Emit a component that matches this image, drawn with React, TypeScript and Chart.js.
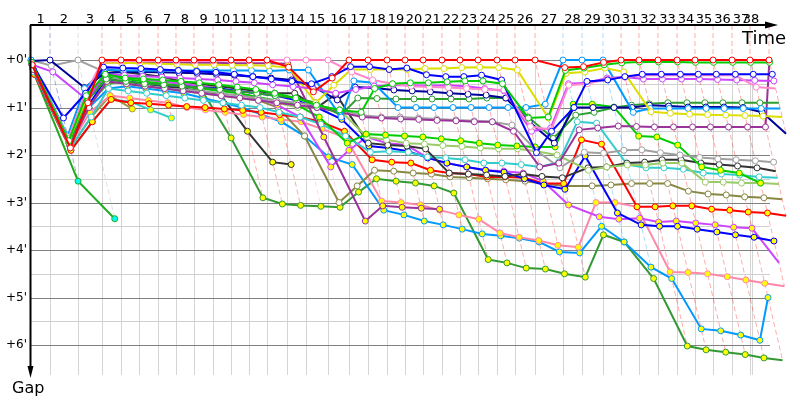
import React, { useEffect, useRef } from 'react';
import { Chart, registerables } from 'chart.js';

Chart.register(...registerables);

// ---- axis data ----
const LAP_LABELS = Array.from({ length: 38 }, (_, i) => String(i + 1));
// leader's crossing time (minutes) at end of each lap, index = lap (0 = start)
const LAP_TIMES = [
  0, 1.73, 4.27, 6.45, 8.18, 9.82, 11.55, 13.18, 14.82, 16.55,
  18.18, 19.82, 21.45, 23.27, 25.0, 27.0, 28.91, 30.64, 32.36, 34.0,
  35.64, 37.36, 39.0, 40.64, 42.36, 44.0, 45.82, 48.36, 50.09, 52.0,
  53.64, 55.27, 57.0, 58.73, 60.36, 62.0, 63.73, 65.36, 67.09,
];
const RACE_END = 65.55;
const GAP_TICKS = [0, 1, 2, 3, 4, 5, 6];
const GAP_TICK_LABELS = ["+0'", "+1'", "+2'", "+3'", "+4'", "+5'", "+6'"];
const GAP_GRID = [0, 0.5, 1, 1.5, 2, 2.5, 3, 3.5, 4, 4.5, 5, 5.5, 6];

// ---- series: gap (minutes) behind leader at end of each lap ----
const RED_W = [
  0.1, 1.85, 0.9, 0, 0, 0, 0, 0, 0, 0,
  0, 0, 0, 0.15, 0.67, 0.38, 0, 0, 0, 0,
  0, 0, 0, 0, 0, 0, 0, 0.16, 0.14, 0.05,
  0, 0, 0, 0, 0, 0, 0, 0, 0,
];
const NAVY_W = [
  0.02, 0, 0.58, 0.28, 0.25, 0.25, 0.26, 0.27, 0.28, 0.3,
  0.32, 0.35, 0.38, 0.42, 0.55, 0.84, 0.57, 0.59, 0.63, 0.65,
  0.67, 0.7, 0.72, 0.74, 0.8, 1.3, 1.75, 1.0, 1.0, 1.0,
  1.0, 0.95, 0.97, 0.99, 0.99, 0.99, 1.0, 1.1, 1.55,
];
const GREY_W = [
  0, 0.12, 0, 0.25, 0.5, 0.55, 0.6, 0.62, 0.65, 0.7,
  0.75, 0.8, 0.85, 0.9, 0.95, 1.05, 1.16, 1.2, 1.2, 1.22,
  1.24, 1.26, 1.28, 1.3, 1.37, 1.9, 2.27, 1.94, 1.96, 1.9,
  1.89, 1.95, 2.0, 2.05, 2.08, 2.1, 2.12, 2.15,
];
const GREEN_CYAN = [0.3, 2.55, 3.34];
const OLIVE_SHORT = [0.2, 1.85, 1.2, 0.75, 1.03];
const CYAN_SHORT = [0.25, 1.9, 1.3, 0.83, 0.88, 1.05, 1.22];
const BLACK_Y = [0.15, 1.7, 0.85, 0.4, 0.45, 0.5, 0.55, 0.6, 0.65, 0.75, 1.5, 2.15, 2.2];
const FOREST_Y = [
  0.25, 1.75, 0.95, 0.5, 0.45, 0.5, 0.52, 0.55, 0.6, 1.64,
  2.9, 3.03, 3.06, 3.08, 3.1, 2.78, 2.5, 2.55, 2.59, 2.65,
  2.8, 4.2, 4.27, 4.38, 4.4, 4.5, 4.57, 3.68, 3.83, 4.6,
  6.02, 6.1, 6.15, 6.2, 6.27, 6.32,
];
const LIGHTBLUE_Y = [
  0.2, 1.7, 1.0, 0.6, 0.55, 0.6, 0.65, 0.7, 0.8, 0.9,
  1.0, 1.15, 1.3, 1.6, 2.04, 2.2, 3.16, 3.26, 3.39, 3.47,
  3.56, 3.66, 3.7, 3.75, 3.83, 4.04, 4.06, 3.5, 3.83, 4.36,
  4.6, 5.66, 5.7, 5.79, 5.9, 5.0,
];
const PINK_Y = [
  0.2, 1.8, 1.1, 0.75, 0.8, 0.85, 0.9, 1.0, 1.05, 1.1,
  1.15, 1.2, 1.25, 1.3, 1.45, 1.64, 2.97, 3.0, 3.05, 3.16,
  3.26, 3.35, 3.64, 3.73, 3.8, 3.9, 3.94, 3.0, 3.0, 3.09,
  4.46, 4.47, 4.5, 4.56, 4.63, 4.7, 4.76,
];
const PURPLE_Y = [
  0.05, 1.75, 0.85, 0.04, 0.05, 0.05, 0.05, 0.05, 0.06, 0.06,
  0.07, 0.07, 0.07, 0.08, 1.62, 3.39, 3.07, 3.1, 3.12, 3.14,
];
const BLACK_W = [
  0.1, 1.7, 0.7, 0.2, 0.25, 0.3, 0.35, 0.45, 0.5, 0.55,
  0.6, 0.65, 0.7, 0.7, 1.0, 0.72, 1.75, 1.79, 1.81, 1.87,
  2.38, 2.4, 2.42, 2.45, 2.4, 2.45, 2.48, 2.27, 2.25, 2.17,
  2.15, 2.1, 2.1, 2.17, 2.2, 2.23, 2.27, 2.34,
];
const OLIVE_W = [
  0.15, 1.8, 0.8, 0.3, 0.35, 0.4, 0.45, 0.5, 0.55, 0.6,
  0.7, 0.85, 1.0, 1.6, 3.0, 2.65, 2.32, 2.34, 2.38, 2.4,
  2.46, 2.48, 2.5, 2.52, 2.55, 2.6, 2.65, 2.65, 2.63, 2.6,
  2.6, 2.6, 2.76, 2.82, 2.84, 2.88, 2.9, 2.93,
];
const RED_Y = [
  0.3, 1.9, 1.3, 0.83, 0.9, 0.92, 0.95, 0.98, 1.0, 1.03,
  1.06, 1.1, 1.15, 1.2, 1.3, 1.5, 2.1, 2.15, 2.17, 2.32,
  2.38, 2.4, 2.46, 2.46, 2.48, 2.6, 2.6, 1.68, 1.77, 3.09,
  3.09, 3.07, 3.07, 3.14, 3.16, 3.2, 3.22, 3.28,
];
const BLUE_Y = [
  0.2, 1.75, 0.95, 0.4, 0.45, 0.5, 0.52, 0.55, 0.58, 0.6,
  0.65, 0.7, 0.75, 0.85, 1.0, 1.25, 1.81, 1.85, 1.92, 2.06,
  2.17, 2.25, 2.32, 2.36, 2.5, 2.63, 2.72, 2.02, 3.22, 3.47,
  3.5, 3.5, 3.56, 3.62, 3.68, 3.73, 3.81,
];
const VIOLET_Y = [
  0.15, 1.7, 0.8, 0.3, 0.35, 0.4, 0.45, 0.5, 0.55, 0.6,
  0.7, 0.8, 0.95, 1.2, 2.25, 1.9, 1.62, 1.75, 1.79, 2.06,
  2.17, 2.25, 2.32, 2.34, 2.38, 2.55, 3.05, 3.3, 3.35, 3.33,
  3.41, 3.39, 3.43, 3.47, 3.52, 3.54, 4.27,
];
const CYAN_W = [
  0.25, 1.85, 1.2, 0.6, 0.65, 0.7, 0.75, 0.8, 0.85, 0.9,
  0.95, 1.0, 1.1, 1.2, 1.35, 1.6, 1.94, 1.92, 1.94, 2.04,
  2.06, 2.1, 2.17, 2.17, 2.2, 2.25, 2.15, 1.3, 1.33, 2.2,
  2.27, 2.27, 2.3, 2.38, 2.4, 2.42, 2.46, 2.48,
];
const YGREEN_W = [
  0.2, 1.8, 1.0, 0.45, 0.5, 0.55, 0.6, 0.65, 0.7, 0.75,
  0.8, 0.85, 0.9, 1.0, 1.0, 1.05, 1.62, 1.68, 1.75, 1.77,
  1.8, 1.82, 1.85, 1.87, 1.87, 1.92, 2.0, 2.32, 2.25, 2.21,
  2.21, 2.17, 2.17, 2.57, 2.57, 2.59, 2.59, 2.61,
];
const GREEN_Y = [
  0.1, 1.75, 0.8, 0.35, 0.4, 0.45, 0.5, 0.55, 0.6, 0.65,
  0.7, 0.78, 0.85, 0.95, 1.2, 1.75, 1.56, 1.58, 1.6, 1.62,
  1.66, 1.7, 1.75, 1.79, 1.81, 1.83, 1.83, 0.93, 0.93, 0.99,
  1.6, 1.62, 1.79, 2.25, 2.32, 2.38, 2.59,
];
const GREEN_W = [
  0.05, 1.7, 0.75, 0.3, 0.38, 0.4, 0.42, 0.45, 0.48, 0.52,
  0.57, 0.62, 0.7, 0.8, 0.95, 1.05, 1.1, 0.6, 0.5, 0.48,
  0.48, 0.46, 0.44, 0.44, 0.5, 1.22, 1.2, 0.22, 0.17, 0.1,
  0.06, 0.04, 0.04, 0.04, 0.05, 0.05, 0.05, 0.05, 0.05,
];
const BLUE_W = [
  0.05, 1.22, 0.7, 0.15, 0.17, 0.18, 0.2, 0.22, 0.24, 0.26,
  0.3, 0.35, 0.4, 0.45, 0.5, 0.35, 0.14, 0.14, 0.2, 0.17,
  0.31, 0.35, 0.35, 0.32, 0.42, 1.95, 1.5, 1.0, 0.45, 0.42,
  0.35, 0.3, 0.3, 0.3, 0.3, 0.3, 0.3, 0.3, 0.3,
];
const VIOLET_W = [
  0.1, 0.25, 0.84, 0.3, 0.32, 0.34, 0.36, 0.38, 0.4, 0.42,
  0.45, 0.48, 0.52, 0.56, 0.6, 0.7, 0.62, 0.55, 0.53, 0.53,
  0.54, 0.53, 0.55, 0.6, 0.65, 1.5, 1.43, 0.5, 0.48, 0.38,
  0.36, 0.4, 0.4, 0.4, 0.4, 0.41, 0.42, 0.43, 0.44,
];
const PINK_W = [
  0.05, 1.65, 0.7, 0.03, 0.02, 0.02, 0.02, 0.02, 0.02, 0.02,
  0.01, 0.01, 0, 0, 0, 0, 0.25, 0.42, 0.5, 0.55,
  0.57, 0.58, 0.6, 0.62, 0.63, 1.4, 1.47, 0.53, 0.5, 0.4,
  0.36, 0.32, 0.32, 0.32, 0.32, 0.32, 0.32, 0.57, 0.6,
];
const YELLOW_W = [
  0.05, 1.7, 0.8, 0.05, 0.06, 0.07, 0.08, 0.09, 0.1, 0.1,
  0.11, 0.11, 0.12, 0.16, 0.9, 0.53, 0.2, 0.2, 0.2, 0.2,
  0.18, 0.18, 0.16, 0.15, 0.16, 0.21, 1.22, 0.28, 0.25, 0.17,
  0.25, 1.09, 1.12, 1.14, 1.15, 1.16, 1.17, 1.18, 1.2,
];
const FOREST_W = [
  0.1, 1.75, 0.85, 0.4, 0.45, 0.5, 0.52, 0.55, 0.58, 0.62,
  0.66, 0.7, 0.75, 0.8, 0.9, 1.16, 0.8, 0.81, 0.82, 0.82,
  0.82, 0.82, 0.82, 0.8, 0.8, 1.2, 1.65, 1.16, 1.1, 1.0,
  0.95, 0.92, 0.9, 0.9, 0.9, 0.9, 0.9, 0.9, 0.9,
];
const PURPLE_W = [
  0.2, 1.8, 1.0, 0.45, 0.5, 0.55, 0.6, 0.65, 0.7, 0.75,
  0.8, 0.85, 0.9, 0.95, 1.0, 1.1, 1.2, 1.22, 1.24, 1.25,
  1.27, 1.28, 1.3, 1.3, 1.5, 2.25, 2.17, 1.47, 1.43, 1.39,
  1.4, 1.41, 1.41, 1.41, 1.41, 1.41, 1.41, 1.41, 0.03,
];
const LIGHTBLUE_W = [
  0, 1.6, 0.6, 0.2, 0.22, 0.22, 0.22, 0.22, 0.22, 0.22,
  0.22, 0.22, 0.23, 0.21, 0.21, 1.2, 0.44, 0.48, 1.0, 1.0,
  1.0, 1.0, 1.0, 1.0, 1.0, 1.0, 0.93, 0, 0, 0,
  1.1, 1.02, 1.02, 1.02, 1.02, 1.02, 1.02, 1.02, 1.02,
];

type Series = { color: string; fill: string; gaps: number[] };
const W = '#ffffff';
const Y = '#ffff00';
const SERIES: Series[] = [
  { color: '#ff0000', fill: W, gaps: RED_W },
  { color: '#00cc00', fill: W, gaps: GREEN_W },
  { color: '#0000ff', fill: W, gaps: BLUE_W },
  { color: '#ff88cc', fill: W, gaps: PINK_W },
  { color: '#cc44ff', fill: W, gaps: VIOLET_W },
  { color: '#dddd00', fill: W, gaps: YELLOW_W },
  { color: '#0099ff', fill: W, gaps: LIGHTBLUE_W },
  { color: '#000099', fill: W, gaps: NAVY_W },
  { color: '#2e9e2e', fill: W, gaps: FOREST_W },
  { color: '#993399', fill: W, gaps: PURPLE_W },
  { color: '#a0a0a0', fill: W, gaps: GREY_W },
  { color: '#993399', fill: Y, gaps: PURPLE_Y },
  { color: '#00cc00', fill: Y, gaps: GREEN_Y },
  { color: '#99cc66', fill: W, gaps: YGREEN_W },
  { color: '#333333', fill: W, gaps: BLACK_W },
  { color: '#33cccc', fill: W, gaps: CYAN_W },
  { color: '#0000ff', fill: Y, gaps: BLUE_Y },
  { color: '#cc44ff', fill: Y, gaps: VIOLET_Y },
  { color: '#ff0000', fill: Y, gaps: RED_Y },
  { color: '#888844', fill: W, gaps: OLIVE_W },
  { color: '#ff88aa', fill: Y, gaps: PINK_Y },
  { color: '#0099ff', fill: Y, gaps: LIGHTBLUE_Y },
  { color: '#339933', fill: Y, gaps: FOREST_Y },
  { color: '#333333', fill: Y, gaps: BLACK_Y },
  { color: '#33cccc', fill: Y, gaps: CYAN_SHORT },
  { color: '#999944', fill: Y, gaps: OLIVE_SHORT },
  { color: '#22aa22', fill: '#00ffee', gaps: GREEN_CYAN },
];

function rgba(hex: string, a: number) {
  const n = parseInt(hex.slice(1), 16);
  return `rgba(${(n >> 16) & 255},${(n >> 8) & 255},${n & 255},${a})`;
}

const FONT = "'DejaVu Sans', Verdana, sans-serif";

const decorPlugin = {
  id: 'gapDecor',
  beforeDatasetsDraw(chart: any) {
    const { ctx, chartArea: a, scales } = chart;
    const xs = scales.x;
    const ys = scales.y;
    ctx.save();
    ctx.lineWidth = 1;
    const y0 = ys.getPixelForValue(0);
    // vertical lap grid
    ctx.strokeStyle = '#d4d4d4';
    const gridTimes = [...LAP_TIMES.slice(1, 38), RACE_END];
    gridTimes.forEach((t) => {
      const px = Math.round(xs.getPixelForValue(t)) + 0.5;
      ctx.beginPath();
      ctx.moveTo(px, y0);
      ctx.lineTo(px, a.bottom);
      ctx.stroke();
    });
    // horizontal gap grid
    GAP_GRID.forEach((g) => {
      const py = Math.round(ys.getPixelForValue(g)) + 0.5;
      ctx.strokeStyle = g % 1 === 0 ? '#808080' : '#d0d0d0';
      ctx.beginPath();
      ctx.moveTo(a.left, py);
      ctx.lineTo(a.right, py);
      ctx.stroke();
    });
    // slanted lap lines (same-lap crossings)
    ctx.setLineDash([5, 3]);
    for (let lap = 1; lap < LAP_TIMES.length; lap++) {
      let leader: Series | null = null;
      let minG = Infinity;
      let maxG = 0;
      SERIES.forEach((s) => {
        const g = s.gaps[lap];
        if (g === undefined || g === null) return;
        if (g < minG) { minG = g; leader = s; }
        if (g > maxG) maxG = g;
      });
      if (!leader) continue;
      const t = LAP_TIMES[lap];
      ctx.strokeStyle = rgba((leader as Series).color, 0.33);
      ctx.beginPath();
      ctx.moveTo(xs.getPixelForValue(t), a.top);
      ctx.lineTo(xs.getPixelForValue(t), y0);
      ctx.lineTo(xs.getPixelForValue(t + maxG), ys.getPixelForValue(maxG));
      ctx.stroke();
    }
    ctx.restore();
  },
  afterDatasetsDraw(chart: any) {
    const { ctx, chartArea: a, scales } = chart;
    const xs = scales.x;
    const ys = scales.y;
    ctx.save();
    ctx.strokeStyle = '#000';
    ctx.fillStyle = '#000';
    ctx.lineWidth = 2;
    // top (time) axis with arrow
    ctx.beginPath();
    ctx.moveTo(a.left - 1, a.top);
    ctx.lineTo(a.right - 4, a.top);
    ctx.stroke();
    ctx.beginPath();
    ctx.moveTo(a.right + 8, a.top);
    ctx.lineTo(a.right - 5, a.top - 3.5);
    ctx.lineTo(a.right - 5, a.top + 3.5);
    ctx.closePath();
    ctx.fill();
    // left (gap) axis with arrow
    ctx.beginPath();
    ctx.moveTo(a.left - 0.5, a.top);
    ctx.lineTo(a.left - 0.5, a.bottom - 8);
    ctx.stroke();
    ctx.beginPath();
    ctx.moveTo(a.left - 0.5, a.bottom + 3);
    ctx.lineTo(a.left - 3.5, a.bottom - 9);
    ctx.lineTo(a.left + 2.5, a.bottom - 9);
    ctx.closePath();
    ctx.fill();
    // lap labels
    ctx.font = `13px ${FONT}`;
    ctx.textAlign = 'center';
    ctx.textBaseline = 'alphabetic';
    const edges = [0, ...LAP_TIMES.slice(1, 38), RACE_END];
    LAP_LABELS.forEach((lab, i) => {
      const mid = (edges[i] + edges[i + 1]) / 2;
      ctx.fillText(lab, xs.getPixelForValue(mid), a.top - 2);
    });
    // gap labels
    ctx.font = `12px ${FONT}`;
    ctx.textAlign = 'right';
    ctx.textBaseline = 'middle';
    GAP_TICKS.forEach((g, i) => {
      ctx.fillText(GAP_TICK_LABELS[i], a.left - 4, ys.getPixelForValue(g));
    });
    // axis titles
    ctx.textAlign = 'left';
    ctx.textBaseline = 'alphabetic';
    ctx.font = `18px ${FONT}`;
    ctx.fillText('Time', a.right - 28, a.top + 19);
    ctx.font = `16px ${FONT}`;
    ctx.fillText('Gap', a.left - 19, a.bottom + 18);
    ctx.restore();
  },
};

export default function App() {
  const ref = useRef<HTMLCanvasElement>(null);
  useEffect(() => {
    if (!ref.current) return;
    const chart = new Chart(ref.current, {
      type: 'line',
      data: {
        datasets: SERIES.map((s) => ({
          data: s.gaps.map((g, lap) => ({ x: LAP_TIMES[lap] + g, y: g })),
          borderColor: s.color,
          backgroundColor: s.fill,
          pointBackgroundColor: s.fill,
          pointBorderColor: s.color,
          borderWidth: 2,
          pointRadius: 3,
          pointBorderWidth: 1,
          tension: 0,
          fill: false,
          clip: false as any,
        })),
      },
      options: {
        responsive: false,
        animation: false,
        devicePixelRatio: 1,
        events: [],
        layout: { padding: { left: 31, right: 30, top: 25, bottom: 25 } },
        scales: {
          x: { type: 'linear', min: 0, max: 67.18, display: false },
          y: { type: 'linear', min: -0.737, max: 6.63, reverse: true, display: false },
        },
        plugins: { legend: { display: false }, tooltip: { enabled: false } },
      },
      plugins: [decorPlugin],
    });
    return () => chart.destroy();
  }, []);
  return (
    <canvas
      ref={ref}
      width={800}
      height={400}
      style={{ display: 'block', position: 'fixed', left: 0, top: 0, background: '#fff' }}
    />
  );
}
